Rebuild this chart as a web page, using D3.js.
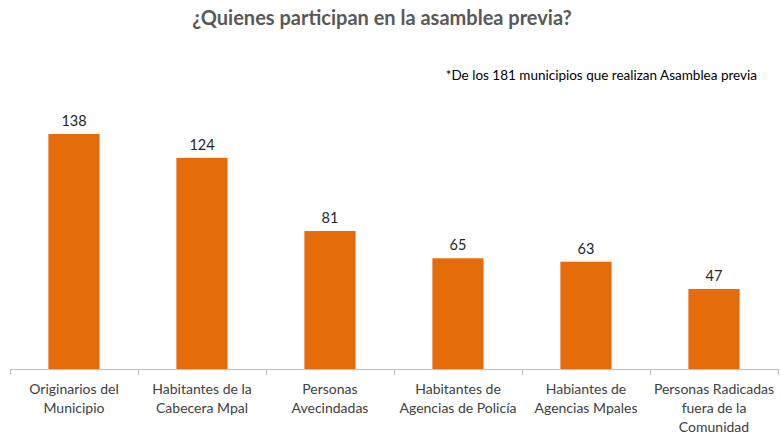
<!DOCTYPE html>
<html>
<head>
<meta charset="utf-8">
<script src="https://cdn.jsdelivr.net/npm/d3@7"></script>
<style>
  body { margin: 0; background: #fff; }
  svg { font-family: Lato, "Open Sans", sans-serif; }
</style>
</head>
<body>
<div id="chart"></div>
<script>
// data
var categories = [
	["Originarios del", "Municipio"],
	["Habitantes de la", "Cabecera Mpal"],
	["Personas", "Avecindadas"],
	["Habitantes de", "Agencias de Policía"],
	["Habiantes de", "Agencias Mpales"],
	["Personas Radicadas", "fuera de la", "Comunidad"]
];
var values = [138, 124, 81, 65, 63, 47];
var title = "¿Quienes participan en la asamblea previa?";
var note = "*De los 181 municipios que realizan Asamblea previa";

var w = 781;
var h = 435;
var barColor = "#E46C0A";

var svg = d3.select("#chart").append("svg")
	.attr("width", w)
	.attr("height", h);

var x = d3.scaleBand()
	.domain(d3.range(values.length))
	.range([10, 778])
	.paddingInner(0.6)
	.paddingOuter(0.3);

var y = d3.scaleLinear()
	.domain([0, 160])
	.range([369, 96.5]);

svg.append("text")
	.attr("x", 382)
	.attr("y", 25)
	.attr("text-anchor", "middle")
	.style("font-size", "20px")
	.style("font-weight", "bold")
	.style("fill", "#595959")
	.text(title);

svg.append("text")
	.attr("x", 757)
	.attr("y", 80)
	.attr("text-anchor", "end")
	.style("font-size", "13.5px")
	.style("fill", "#000")
	.text(note);

// bars
svg.selectAll("rect.bar")
	.data(values)
	.enter()
	.append("rect")
	.attr("class", "bar")
	.attr("x", function(d, i) { return x(i); })
	.attr("y", function(d) { return y(d); })
	.attr("width", x.bandwidth())
	.attr("height", function(d) { return y(0) - y(d); })
	.style("fill", barColor);

// value labels
svg.selectAll("text.val")
	.data(values)
	.enter()
	.append("text")
	.attr("class", "val")
	.attr("x", function(d, i) { return x(i) + x.bandwidth() / 2; })
	.attr("y", function(d) { return y(d) - 8; })
	.attr("text-anchor", "middle")
	.style("font-size", "14.5px")
	.style("fill", "#262626")
	.text(function(d) { return d; });

// axis line and ticks between categories
var edges = d3.range(values.length + 1).map(function(i) {
	return 10 + i * (768 / values.length);
});
svg.append("line")
	.attr("x1", 10).attr("x2", 778)
	.attr("y1", y(0) + 0.5).attr("y2", y(0) + 0.5)
	.style("stroke", "#bfbfbf")
	.style("stroke-width", 1);
svg.selectAll("line.tick")
	.data(edges)
	.enter()
	.append("line")
	.attr("class", "tick")
	.attr("x1", function(d) { return Math.round(d) + 0.5; })
	.attr("x2", function(d) { return Math.round(d) + 0.5; })
	.attr("y1", y(0))
	.attr("y2", y(0) + 6)
	.style("stroke", "#bfbfbf");

// category labels
var labels = svg.selectAll("text.cat")
	.data(categories)
	.enter()
	.append("text")
	.attr("class", "cat")
	.attr("text-anchor", "middle")
	.style("font-size", "14px")
	.style("fill", "#404040");
labels.each(function(lines, i) {
	var cx = x(i) + x.bandwidth() / 2;
	d3.select(this).selectAll("tspan")
		.data(lines)
		.enter()
		.append("tspan")
		.attr("x", cx)
		.attr("y", function(d, j) { return 394 + j * 19; })
		.text(function(d) { return d; });
});
</script>
</body>
</html>
